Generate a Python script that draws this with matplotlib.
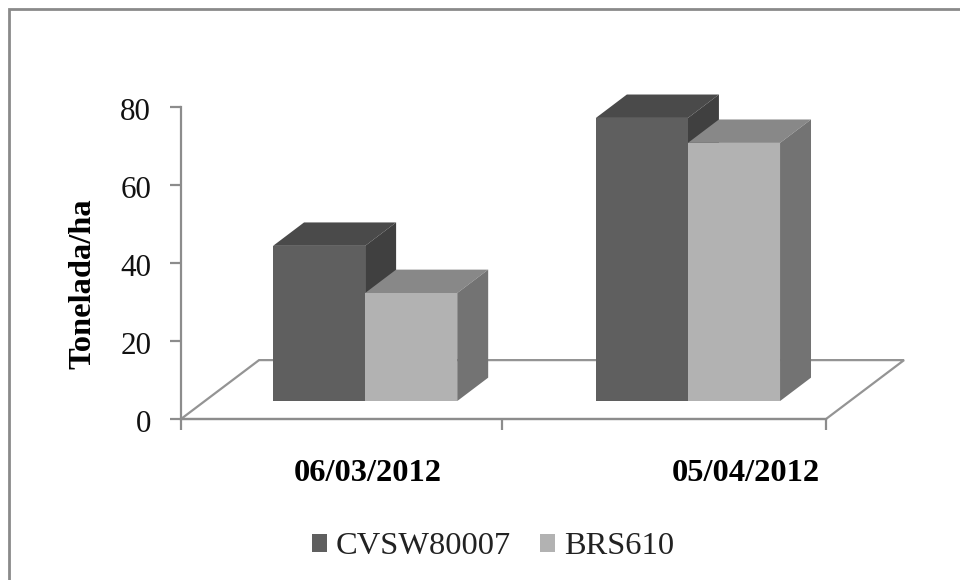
import matplotlib
matplotlib.use('Agg')
import matplotlib.pyplot as plt
from matplotlib.lines import Line2D
from matplotlib.patches import Polygon, Rectangle
from matplotlib.transforms import ScaledTranslation

plt.rcParams['font.family'] = ['Liberation Serif', 'DejaVu Serif']

# 数据
dates = ['06/03/2012', '05/04/2012']
cvsw80007 = [39.8, 72.6]
brs610 = [27.7, 66.2]
series_names = ['CVSW80007', 'BRS610']
y_ticks = [0, 20, 40, 60, 80]

W, H = 960, 580
left, right, top, bottom = 181, 826, 107, 419

fig = plt.figure(figsize=(W / 100, H / 100), dpi=100, facecolor='white')
ax = fig.add_axes([left / W, 1 - bottom / H, (right - left) / W, (bottom - top) / H])
ax.set_xlim(0, 2)
ax.set_ylim(0, 80)

# 外框只有上边和左边
fig.add_artist(Line2D([9 / W, 9 / W, 1], [0, 1 - 9 / H, 1 - 9 / H], transform=fig.transFigure,
                      color='#8a8a8a', linewidth=2.0, solid_joinstyle='miter'))

# 地板的深度和柱子的深度（数据单位）
floor_dx, floor_dy = 0.242, 15.1
depth_dx, depth_dy = 0.096, 6.0
base = 4.6
bar_w = 0.2855
group_pos = [0.571, 1.572]

# 地板
floor = Polygon([(0, 0), (floor_dx, floor_dy), (2 + floor_dx, floor_dy), (2, 0)], closed=True,
                facecolor='white', edgecolor='#949494', linewidth=1.6, clip_on=False, zorder=1)
ax.add_patch(floor)


def draw_bars(x_list, values, front, top_c, side_c, z):
    for x, v in zip(x_list, values):
        ax.bar(x, v, width=bar_w, bottom=base, align='edge', color=front,
               edgecolor='none', zorder=z + 1, clip_on=False)
        y1 = base + v
        ax.add_patch(Polygon([(x, y1), (x + depth_dx, y1 + depth_dy),
                              (x + bar_w + depth_dx, y1 + depth_dy), (x + bar_w, y1)],
                             closed=True, facecolor=top_c, edgecolor='none', zorder=z, clip_on=False))
        ax.add_patch(Polygon([(x + bar_w, base), (x + bar_w + depth_dx, base + depth_dy),
                              (x + bar_w + depth_dx, y1 + depth_dy), (x + bar_w, y1)],
                             closed=True, facecolor=side_c, edgecolor='none', zorder=z, clip_on=False))


draw_bars([p - bar_w for p in group_pos], cvsw80007, '#5f5f5f', '#4a4a4a', '#404040', 3)
draw_bars(group_pos, brs610, '#b2b2b2', '#888888', '#737373', 5)

# 坐标轴
for s in ['top', 'right']:
    ax.spines[s].set_visible(False)
for s in ['left', 'bottom']:
    ax.spines[s].set_color('#8c8c8c')
    ax.spines[s].set_linewidth(1.6)
    ax.spines[s].set_zorder(2)
ax.patch.set_alpha(0)

ax.set_yticks(y_ticks)
ax.tick_params(axis='y', length=8, width=1.6, color='#8c8c8c', labelsize=22.4, pad=13.5,
               labelcolor='#111111')
# 刻度数字稍微下移
shift = ScaledTranslation(0, -2 / 100, fig.dpi_scale_trans)
for lab in ax.get_yticklabels():
    lab.set_transform(lab.get_transform() + shift)
ax.set_xticks([0, 0.995, 2])
ax.set_xticklabels([])
ax.tick_params(axis='x', length=8, width=1.6, color='#8c8c8c')

fig.text(367.5 / W, 1 - 473.5 / H, dates[0], ha='center', va='center', fontsize=23.4, fontweight='bold')
fig.text(746 / W, 1 - 473.5 / H, dates[1], ha='center', va='center', fontsize=23.4, fontweight='bold')
fig.text(83 / W, 1 - 284 / H, 'Tonelada/ha', rotation=90, ha='center', va='center',
         fontsize=23.4, fontweight='bold')

# 图例
handles = [Rectangle((0, 0), 1, 1, facecolor='#5f5f5f'), Rectangle((0, 0), 1, 1, facecolor='#b2b2b2')]
fig.legend(handles, series_names, loc='center', bbox_to_anchor=(493 / W, 1 - 547 / H), ncol=2,
           frameon=False, fontsize=23.4, handlelength=0.46, handleheight=0.46,
           handletextpad=0.28, columnspacing=0.89, labelcolor='#222222')

fig.savefig('out.png', dpi=100)
